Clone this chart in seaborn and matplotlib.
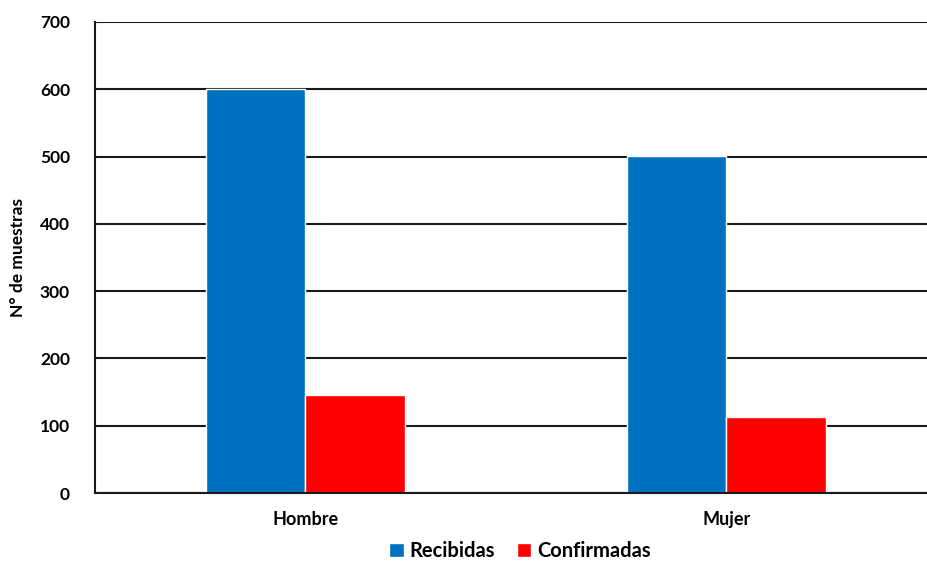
import matplotlib
matplotlib.use("Agg")
import matplotlib.pyplot as plt
import seaborn as sns
import pandas as pd

sexo = ["Hombre", "Mujer"]
recibidas = [600, 501]
confirmadas = [146, 113]
series = ["Recibidas", "Confirmadas"]
colores = ["#0070C0", "#FF0000"]
yticks = [0, 100, 200, 300, 400, 500, 600, 700]

df = pd.DataFrame({
    "Sexo": sexo * 2,
    "Serie": [series[0]] * len(sexo) + [series[1]] * len(sexo),
    "Valor": recibidas + confirmadas,
})

sns.set_theme(style="white")
plt.rcParams["font.family"] = ["Lato", "DejaVu Sans"]
plt.rcParams["font.weight"] = "bold"
plt.rcParams["text.color"] = "black"
plt.rcParams["xtick.color"] = "black"
plt.rcParams["ytick.color"] = "black"
plt.rcParams["axes.labelcolor"] = "black"

fig = plt.figure(figsize=(9.28, 5.65), dpi=100)
ax = fig.add_axes([95 / 928, 1 - 493 / 565, 842 / 928, 471 / 565])

sns.barplot(data=df, x="Sexo", y="Valor", hue="Serie", palette=colores,
            width=0.474, saturation=1, gap=0, ax=ax, legend=True)

ax.set_xlim(-0.5, 1.5)
ax.set_ylim(0, 700)
ax.set_yticks(yticks)
ax.yaxis.grid(True, color="#1a1a1a", linewidth=1.5)
ax.set_axisbelow(True)

for s in ["top", "right"]:
    ax.spines[s].set_visible(False)
for s in ["left", "bottom"]:
    ax.spines[s].set_color("#1a1a1a")
    ax.spines[s].set_linewidth(1.5)

ax.set_xticks([-0.5, 0.5, 1.5], minor=True)
ax.tick_params(axis="x", which="major", length=0, pad=13, labelsize=13)
ax.tick_params(axis="x", which="minor", length=6, width=1.5, color="#1a1a1a", direction="out")
ax.tick_params(axis="y", length=0, pad=18, labelsize=12.5)
for lab in ax.get_xticklabels() + ax.get_yticklabels():
    lab.set_fontweight("bold")

ax.set_xlabel("")
ax.set_ylabel("N° de muestras", fontsize=12.5, fontweight="bold", labelpad=10)

leg = ax.legend(loc="lower center", bbox_to_anchor=(0.505, -0.175), ncol=2,
                frameon=False, fontsize=14.5, handlelength=0.7, handleheight=0.7,
                handletextpad=0.3, columnspacing=1.1, borderpad=0.2)
for t in leg.get_texts():
    t.set_fontweight("bold")

fig.savefig("out.png", dpi=100)
